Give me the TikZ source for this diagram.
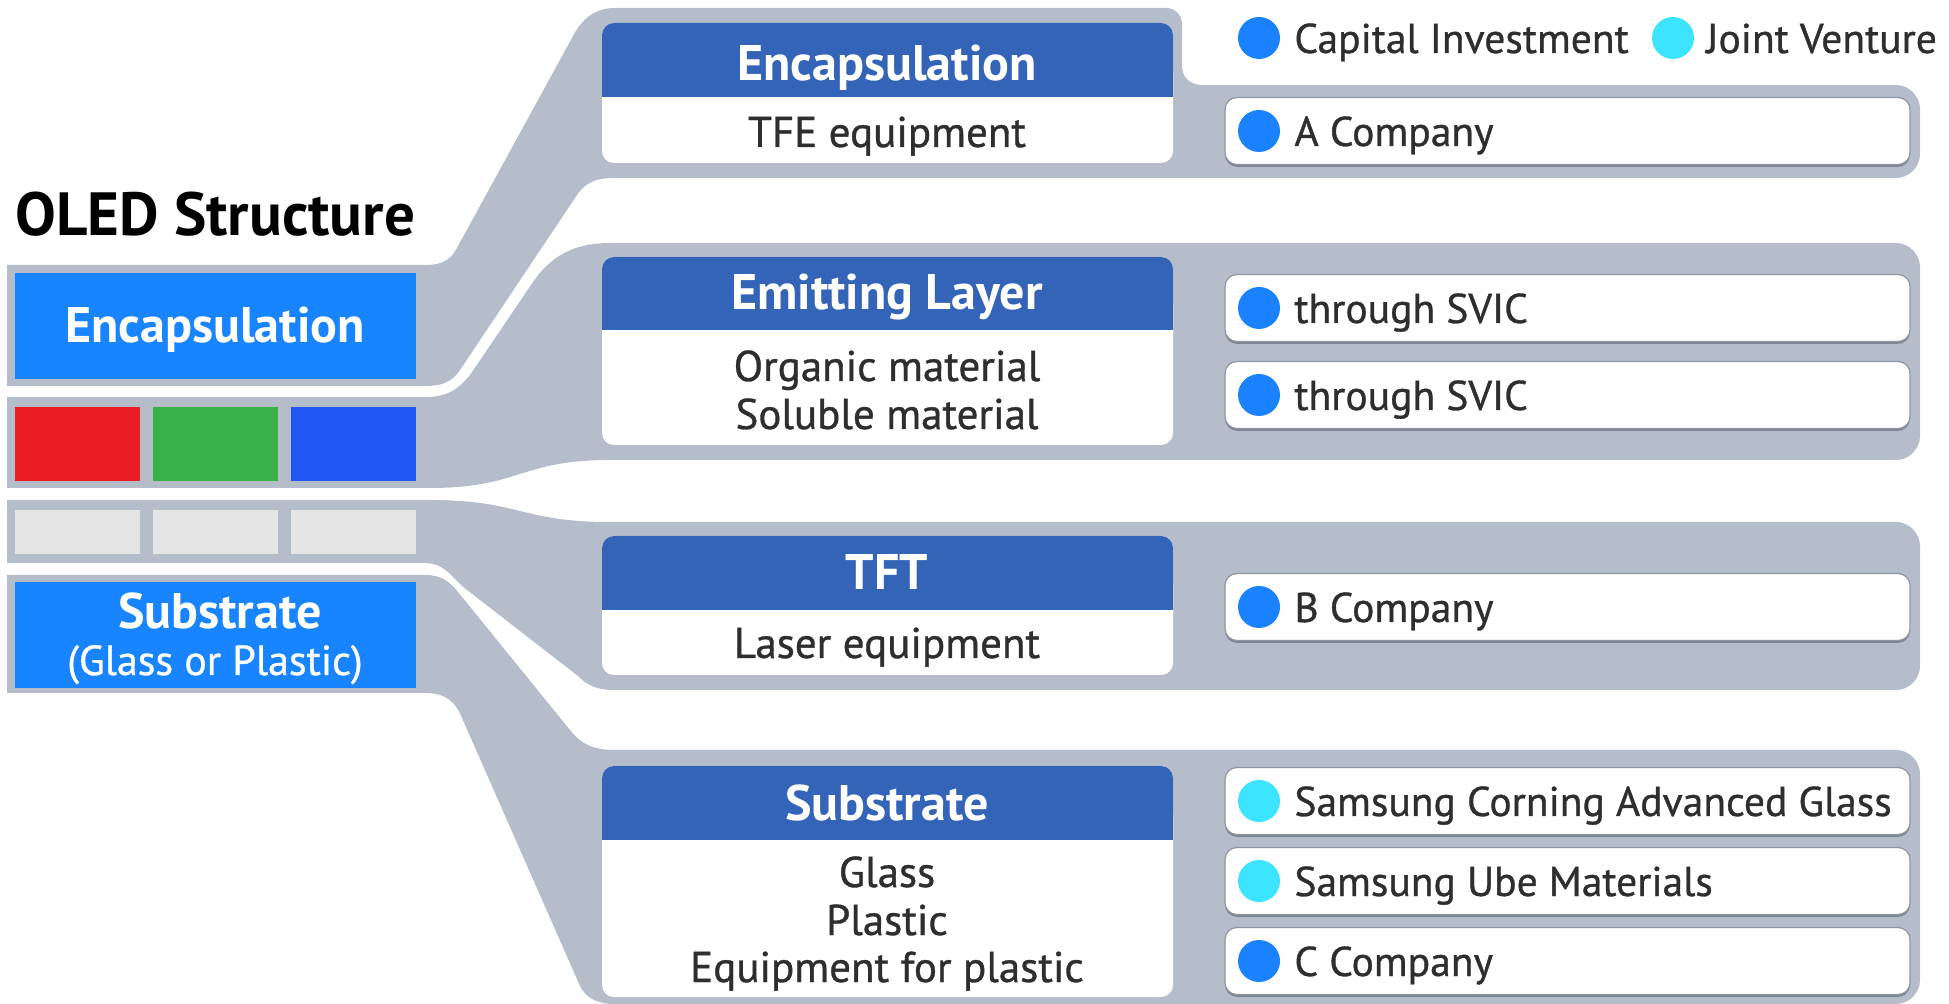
\documentclass[tikz,border=0pt]{standalone}
\usepackage{fontspec}
\setmainfont{PT Sans}
\newfontfamily\medfont[FakeBold=0.8]{PT Sans}
\definecolor{band}{HTML}{B4BDC9}
\definecolor{azure}{HTML}{1884FF}
\definecolor{hdr}{HTML}{3464B8}
\definecolor{cred}{HTML}{EC1C24}
\definecolor{cgreen}{HTML}{39B14A}
\definecolor{cblue}{HTML}{2157F2}
\definecolor{cell}{HTML}{E5E5E5}
\definecolor{dotblue}{HTML}{1A82FF}
\definecolor{dotcyan}{HTML}{3CE4FF}
\definecolor{txtgray}{HTML}{2E2E2E}
\definecolor{boxedge}{HTML}{8E96A1}
\definecolor{cshade}{HTML}{7F8792}
\tikzset{
  titletxt/.style={font=\fontsize{30.5}{34}\selectfont\bfseries, text=black, anchor=base west, inner sep=0pt},
  hdrtxt/.style={font=\fontsize{25}{29}\selectfont\bfseries, text=white, anchor=base, inner sep=0pt},
  subtxt/.style={font=\medfont\fontsize{21}{25}\selectfont, text=white, anchor=base, inner sep=0pt},
  bodytxt/.style={font=\medfont\fontsize{21.5}{25}\selectfont, text=txtgray, anchor=base, inner sep=0pt},
  cotxt/.style={font=\medfont\fontsize{20.8}{25}\selectfont, text=txtgray, anchor=base west, inner sep=0pt},
  dotc/.style={circle, inner sep=0pt, minimum size=21pt, fill=#1},
  cobox/.style={rounded corners=6pt, fill=white, draw=boxedge, line width=0.6pt,
    minimum width=342.5pt, minimum height=33.5pt, inner sep=0pt,
    preaction={fill=cshade, transform canvas={yshift=-1.2pt}}},
}
\begin{document}
\begin{tikzpicture}[x=0.5pt,y=-0.5pt]
\useasboundingbox (0,0) rectangle (1949,1004);

% ---------- gray bands and panels ----------
\fill[band] (7,265) -- (425,265) .. controls (445,265) and (452,258) .. (458,246)
  -- (572,38) .. controls (580,22) and (592,8) .. (615,8)
  -- (1166,8) .. controls (1175,8) and (1182,15) .. (1182,24)
  -- (1182,66) .. controls (1182,77) and (1190,85) .. (1202,85)
  -- (1896,85) .. controls (1909,85) and (1920,96) .. (1920,109)
  -- (1920,154) .. controls (1920,167) and (1909,178) .. (1896,178)
  -- (615,178) .. controls (595,178) and (585,183) .. (577,195)
  -- (462,367) .. controls (455,378) and (448,386) .. (425,386)
  -- (7,386) -- cycle;

\fill[band] (7,397) -- (425,397) .. controls (450,397) and (460,387) .. (470,375)
  -- (531,285) .. controls (545,264) and (565,243) .. (610,243)
  -- (1896,243) .. controls (1909,243) and (1920,254) .. (1920,267)
  -- (1920,436) .. controls (1920,449) and (1909,460) .. (1896,460)
  -- (610,460) .. controls (520,460) and (520,488) .. (430,488)
  -- (7,488) -- cycle;

\fill[band] (7,500) -- (430,500) .. controls (520,500) and (520,522) .. (610,522)
  -- (1896,522) .. controls (1909,522) and (1920,533) .. (1920,546)
  -- (1920,666) .. controls (1920,679) and (1909,690) .. (1896,690)
  -- (615,690) .. controls (596,690) and (587,685) .. (578,676)
  -- (462,586) .. controls (450,574) and (442,563) .. (425,563)
  -- (7,563) -- cycle;

\fill[band] (7,575) -- (425,575) .. controls (442,575) and (450,582) .. (458,592)
  -- (570,730) .. controls (580,743) and (592,750) .. (615,750)
  -- (1896,750) .. controls (1909,750) and (1920,761) .. (1920,774)
  -- (1920,980) .. controls (1920,993) and (1909,1004) .. (1896,1004)
  -- (615,1004) .. controls (597,1004) and (586,998) .. (580,986)
  -- (462,718) .. controls (456,703) and (447,693) .. (425,693)
  -- (7,693) -- cycle;

% ---------- left structure ----------
\node[titletxt] (title) at (15,236) {OLED Structure};
\fill[azure] (15,273) rectangle (416,379);
\node[hdrtxt] (lenc) at (215,343) {Encapsulation};
\fill[cred] (15,407) rectangle (140,481);
\fill[cgreen] (153,407) rectangle (278,481);
\fill[cblue] (291,407) rectangle (416,481);
\fill[cell] (15,510) rectangle (140,554);
\fill[cell] (153,510) rectangle (278,554);
\fill[cell] (291,510) rectangle (416,554);
\fill[azure] (15,582) rectangle (416,688);
\node[hdrtxt] (lsub) at (220,629) {Substrate};
\node[subtxt] (lsubb) at (215,675) {(Glass or Plastic)};

% ---------- right header/body cards ----------
\foreach \t/\s/\b in {23/97/163, 257/330/445, 536/610/675, 766/840/997}{
  \fill[white, rounded corners=6pt] (602,\t) rectangle (1173,\b);
  \fill[hdr, rounded corners=6pt] (602,\t) rectangle (1173,{\s-14});
  \fill[hdr] (602,{\t+14}) rectangle (1173,\s);
}
\node[hdrtxt] (h1) at (887,81) {Encapsulation};
\node[bodytxt] (b1) at (887,147) {TFE equipment};
\node[hdrtxt] (h2) at (887,310) {Emitting Layer};
\node[bodytxt] (b2a) at (887,381) {Organic material};
\node[bodytxt] (b2b) at (887,429) {Soluble material};
\node[hdrtxt] (h3) at (887,590) {TFT};
\node[bodytxt] (b3) at (887,658) {Laser equipment};
\node[hdrtxt] (h4) at (887,820) {Substrate};
\node[bodytxt] (b4a) at (887,887) {Glass};
\node[bodytxt] (b4b) at (887,935) {Plastic};
\node[bodytxt] (b4c) at (887,982) {Equipment for plastic};

% ---------- legend ----------
\node[dotc=dotblue] (lgd1) at (1259,38) {};
\node[cotxt] (lgt1) at (1294,53) {Capital Investment};
\node[dotc=dotcyan] (lgd2) at (1673,38) {};
\node[cotxt] (lgt2) at (1706,53) {Joint Venture};

% ---------- company boxes ----------
\foreach \n/\y/\c/\txt in {ca/131/dotblue/A Company,
    cb/308/dotblue/through SVIC, cc/395/dotblue/through SVIC,
    cd/607/dotblue/B Company,
    ce/801/dotcyan/Samsung Corning Advanced Glass,
    cf/881/dotcyan/Samsung Ube Materials,
    cg/961/dotblue/C Company}{
  \node[cobox] (\n) at (1567.5,\y) {};
  \node[dotc=\c] (\n d) at (1259,\y) {};
  \node[cotxt] (\n t) at (1294,{\y+15}) {\txt};
}
\end{tikzpicture}
\end{document}
